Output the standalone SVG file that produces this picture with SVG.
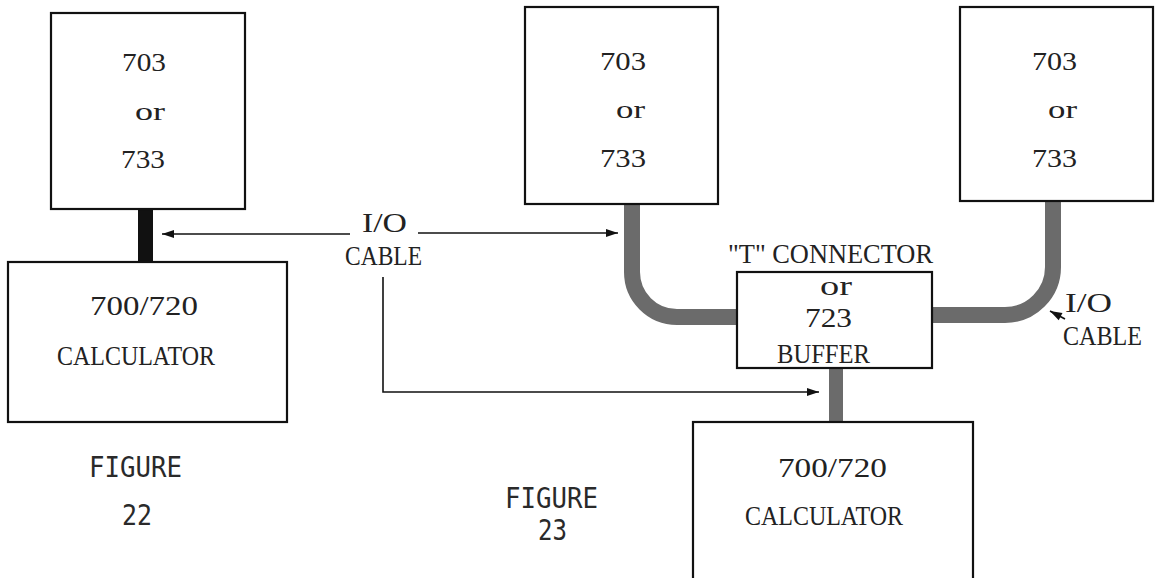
<svg xmlns="http://www.w3.org/2000/svg" width="1155" height="578" viewBox="0 0 1155 578">
<style>
.box{fill:#fff;stroke:#111;stroke-width:2.2}
.tw{font-family:"Liberation Serif","Times New Roman",serif;font-size:27px;fill:#222}
.num{font-family:"Liberation Serif","Times New Roman",serif;font-size:26px;fill:#222}
.fig{font-family:"DejaVu Sans Mono",monospace;font-size:29px;fill:#2a2a2a}
.cable{fill:none;stroke:#6b6b6b;stroke-width:16}
.line{fill:none;stroke:#111;stroke-width:1.6}
</style>
<defs>
<marker id="ah" viewBox="0 0 12 10" refX="12" refY="5" markerWidth="13" markerHeight="10" markerUnits="userSpaceOnUse" orient="auto">
<path d="M0,1 L12,5 L0,9 Z" fill="#111"/>
</marker>
</defs>
<rect width="1155" height="578" fill="#fff"/>
<g id="connectors">
<rect x="138" y="209" width="15" height="53" fill="#111"/>
<path class="cable" d="M632,204 V272 A45,45 0 0 0 677,317 H737"/>
<path class="cable" d="M1053,201 V267 A48,48 0 0 1 1005,315 H932"/>
<path class="cable" style="stroke-width:14" d="M836,368 V422"/>
<path class="line" d="M350,234 H162" marker-end="url(#ah)"/>
<path class="line" d="M418,233 H618" marker-end="url(#ah)"/>
<path class="line" d="M383,277 V392 H819" marker-end="url(#ah)"/>
<path class="line" d="M1065,319 L1050,311" marker-end="url(#ah)"/>
</g>
<g id="fig22-terminal">
<rect class="box" x="51" y="13" width="194" height="196"/>
<text class="num" x="122" y="71" textLength="44" lengthAdjust="spacingAndGlyphs">703</text>
<text class="num" x="135" y="120" textLength="30" lengthAdjust="spacingAndGlyphs">or</text>
<text class="num" x="121" y="168" textLength="44" lengthAdjust="spacingAndGlyphs">733</text>
</g>
<g id="fig22-calculator">
<rect class="box" x="8" y="262" width="279" height="160"/>
<text class="tw" x="90" y="315" textLength="108" lengthAdjust="spacingAndGlyphs">700/720</text>
<text class="tw" x="57" y="365" textLength="158" lengthAdjust="spacingAndGlyphs">CALCULATOR</text>
</g>
<g id="cable-label">
<text class="tw" x="362" y="232" textLength="45" lengthAdjust="spacingAndGlyphs">I/O</text>
<text class="tw" x="345" y="265" textLength="77" lengthAdjust="spacingAndGlyphs">CABLE</text>
</g>
<g id="fig23-terminal1">
<rect class="box" x="525" y="7" width="193" height="197"/>
<text class="num" x="600" y="70" textLength="46" lengthAdjust="spacingAndGlyphs">703</text>
<text class="num" x="616" y="118" textLength="29" lengthAdjust="spacingAndGlyphs">or</text>
<text class="num" x="600" y="167" textLength="46" lengthAdjust="spacingAndGlyphs">733</text>
</g>
<g id="fig23-terminal2">
<rect class="box" x="960" y="7" width="193" height="194"/>
<text class="num" x="1032" y="70" textLength="45" lengthAdjust="spacingAndGlyphs">703</text>
<text class="num" x="1048" y="118" textLength="29" lengthAdjust="spacingAndGlyphs">or</text>
<text class="num" x="1032" y="167" textLength="45" lengthAdjust="spacingAndGlyphs">733</text>
</g>
<g id="t-connector">
<text class="tw" x="728" y="263" textLength="205" lengthAdjust="spacingAndGlyphs">"T" CONNECTOR</text>
<rect class="box" x="737" y="272" width="195" height="96"/>
<text class="tw" x="820" y="295" textLength="32" lengthAdjust="spacingAndGlyphs">or</text>
<text class="tw" x="805" y="327" textLength="47" lengthAdjust="spacingAndGlyphs">723</text>
<text class="tw" x="777" y="363" textLength="93" lengthAdjust="spacingAndGlyphs">BUFFER</text>
</g>
<g id="cable-label-right">
<text class="tw" x="1065" y="312" textLength="47" lengthAdjust="spacingAndGlyphs">I/O</text>
<text class="tw" x="1063" y="345" textLength="79" lengthAdjust="spacingAndGlyphs">CABLE</text>
</g>
<g id="fig23-calculator">
<rect class="box" x="693" y="422" width="280" height="170"/>
<text class="tw" x="778" y="477" textLength="109" lengthAdjust="spacingAndGlyphs">700/720</text>
<text class="tw" x="745" y="525" textLength="158" lengthAdjust="spacingAndGlyphs">CALCULATOR</text>
</g>
<g id="captions">
<text class="fig" x="89" y="477" textLength="93" lengthAdjust="spacingAndGlyphs">FIGURE</text>
<text class="fig" x="122" y="525" textLength="30" lengthAdjust="spacingAndGlyphs">22</text>
<text class="fig" x="505" y="508" textLength="93" lengthAdjust="spacingAndGlyphs">FIGURE</text>
<text class="fig" x="538" y="540" textLength="29" lengthAdjust="spacingAndGlyphs">23</text>
</g>
</svg>
